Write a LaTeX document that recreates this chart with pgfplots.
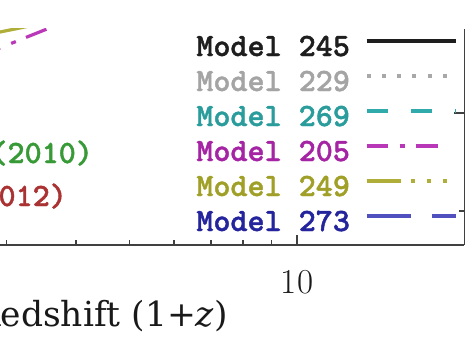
\documentclass[border=0pt]{standalone}
\usepackage{fontspec}
\usepackage{pgfplots}
\pgfplotsset{compat=1.18}
\newfontfamily\lblfont{DejaVu Serif}
\newfontfamily\lmmono{lmmonolt10-bold.otf}[FakeBold=1.3]
\newcommand\legfont{\lmmono\fontsize{32.5bp}{34bp}\selectfont}
\definecolor{t245}{HTML}{1E1E1E}
\definecolor{l245}{HTML}{1E1E1E}
\definecolor{t229}{HTML}{A4A4A4}
\definecolor{l229}{HTML}{A8A8A8}
\definecolor{t269}{HTML}{2A9C9C}
\definecolor{l269}{HTML}{30AAAA}
\definecolor{t205}{HTML}{A424A4}
\definecolor{l205}{HTML}{B838B8}
\definecolor{t249}{HTML}{A0A028}
\definecolor{l249}{HTML}{AEAE38}
\definecolor{t273}{HTML}{24249C}
\definecolor{l273}{HTML}{5050BE}
\definecolor{cgreen}{HTML}{379A37}
\definecolor{cred}{HTML}{AA3232}
\begin{document}
\begin{tikzpicture}
\useasboundingbox (0,0) rectangle (466bp,343bp);
\clip (0,0) rectangle (466bp,343bp);
\begin{axis}[
  at={(-91.6bp,98bp)}, anchor=south west, scale only axis,
  width=556bp, height=216bp,
  xmode=log, xmin=2, xmax=20, ymin=0, ymax=216,
  axis x line=bottom, axis y line=right,
  axis line style={-, line width=1.6bp, color=black!75},
  every outer x axis line/.append style={-},
  every outer y axis line/.append style={-},
  tick style={line width=1.6bp, color=black!75},
  tick align=inside,
  major tick length=10bp, minor tick length=5bp,
  xtick={10}, xticklabels={10}, minor xtick={2,3,4,5,6,7,8,9},
  ytick={132}, yticklabels={}, minor ytick={34},
  xticklabel style={font=\fontsize{35bp}{40bp}\selectfont, inner sep=0pt, anchor=north, yshift=-25bp, text=black!90},
  xlabel={Redshift (1+\textit{z})},
  xlabel style={font=\lblfont\fontsize{34.5bp}{40bp}\selectfont, at={(axis description cs:0.5748,-0.3796)}, anchor=base east, inner sep=0pt, text=black!90},
  legend cell align=right, legend plot pos=right,
  legend style={at={(axis cs:19.41,213)}, anchor=north east, draw=none, fill=none,
    inner sep=0pt, outer sep=0pt, row sep=0pt, column sep=0pt,
    font=\legfont,
    nodes={inner sep=0pt, text height=24bp, text depth=11bp}},
  legend image code/.code={\path (0bp,0bp); \draw[#1] (15bp,8.5bp) -- (104bp,8.5bp);},
  legend image post style={dash phase=0bp},
]
\addlegendimage{l245, line width=3.2bp}
\addlegendentry{\textcolor{t245}{Model 245}}
\addlegendimage{l229, line width=3.2bp, dash pattern=on 4bp off 11.3bp}
\addlegendentry{\textcolor{t229}{Model 229}}
\addlegendimage{l269, line width=3.2bp, dash pattern=on 21bp off 23bp}
\addlegendentry{\textcolor{t269}{Model 269}}
\addplot[l205, line width=3.2bp, dash pattern=on 21bp off 12bp on 5bp off 11bp on 22bp off 40bp, dash phase=88.9bp]
  coordinates {(2.477,181) (2.923,197) (3.268,208) (3.551,216) (4.07,229)};
\addlegendentry{\textcolor{t205}{Model 205}}
\addplot[l249, line width=3.2bp, dash pattern=on 34bp off 10bp on 4bp off 12bp on 4bp off 12bp on 4bp off 12bp, dash phase=56.2bp]
  coordinates {(2.477,205) (2.923,213) (3.11,216) (3.5,222)};
\addlegendentry{\textcolor{t249}{Model 249}}
\addlegendimage{l273, line width=3.2bp, dash pattern=on 44bp off 21bp}
\addlegendentry{\textcolor{t273}{Model 273}}
\node[anchor=base east, inner sep=0pt, text=cgreen, font=\legfont] at (axis cs:4.297,82) {(2010)};
\node[anchor=base east, inner sep=0pt, text=cred, font=\legfont] at (axis cs:3.858,39) {(2012)};
\end{axis}
\end{tikzpicture}
\end{document}
